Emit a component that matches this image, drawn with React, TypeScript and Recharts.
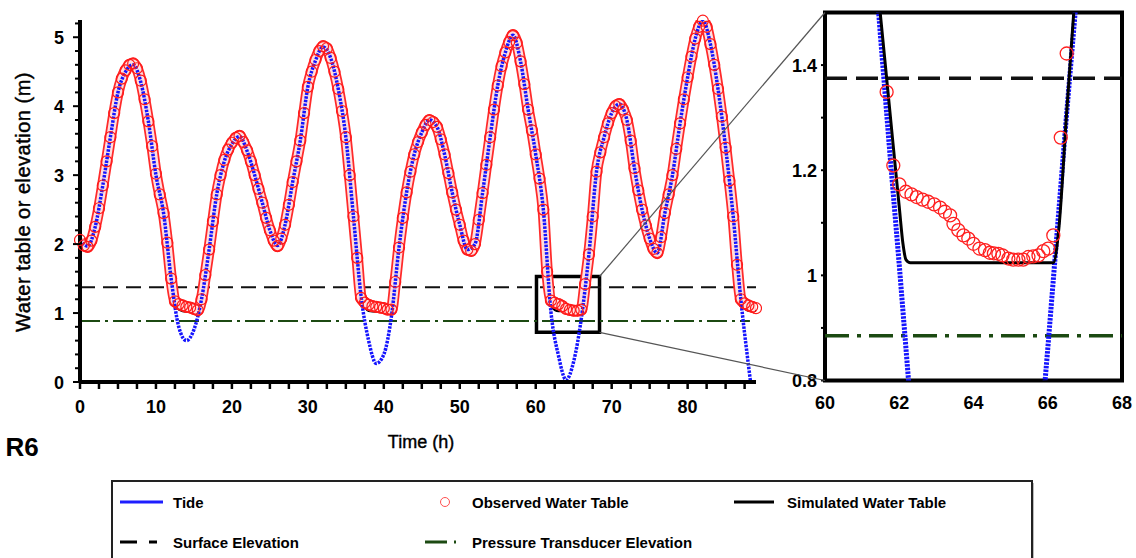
import { ComposedChart, Line, XAxis, YAxis, ReferenceLine, ReferenceArea } from "recharts"

const FONT = "'Liberation Sans', Arial, Helvetica, sans-serif"

// hourly tide (m)
const tideHours = [
  0, 1, 2, 3, 4, 5, 6, 7, 8, 9, 10, 11, 12, 13, 14, 15, 16, 17, 18, 19, 20, 21, 22, 23, 24, 25, 26, 27, 28, 29,
  30, 31, 32, 33, 34, 35, 36, 37, 38, 39, 40, 41, 42, 43, 44, 45, 46, 47, 48, 49, 50, 51, 52, 53, 54, 55, 56, 57, 58, 59,
  60, 61, 62, 63, 64, 65, 66, 67, 68, 69, 70, 71, 72, 73, 74, 75, 76, 77, 78, 79, 80, 81, 82, 83, 84, 85, 86, 87, 88, 89,
]
const tideLevel = [
  2.06, 1.97, 2.25, 2.85, 3.55, 4.2, 4.5, 4.6, 4.35, 3.78,
  3.0, 2.45, 1.5, 0.8, 0.6, 0.76, 1.2, 1.92, 2.72, 3.2,
  3.45, 3.56, 3.35, 3.0, 2.6, 2.2, 1.98, 2.28, 2.9, 3.5,
  4.28, 4.66, 4.86, 4.7, 4.25, 3.55, 2.4, 1.25, 0.6, 0.27,
  0.4, 0.95, 1.95, 2.75, 3.3, 3.62, 3.8, 3.7, 3.3, 2.75,
  2.28, 1.92, 2.0, 2.74, 3.55, 4.3, 4.78, 5.03, 4.65, 3.95,
  3.3, 2.5, 1.02, 0.38, 0.03, 0.3, 0.92, 1.85, 3.05, 3.55,
  3.9, 4.03, 3.8, 3.1, 2.5, 2.08, 1.87, 2.45, 3.0, 3.75,
  4.42, 4.98, 5.24, 4.9, 4.25, 3.4, 2.4, 1.2, 0.25, -0.6,
]
const simulatedLevel = [
  2.06, 1.97, 2.25, 2.85, 3.55, 4.2, 4.5, 4.6, 4.35, 3.78,
  3.0, 2.45, 1.5, 1.05, 1.02, 1.02, 1.2, 1.92, 2.72, 3.2,
  3.45, 3.56, 3.35, 3.0, 2.6, 2.2, 1.98, 2.28, 2.9, 3.5,
  4.28, 4.66, 4.86, 4.7, 4.25, 3.55, 2.4, 1.25, 1.03, 1.02,
  1.02, 1.02, 1.95, 2.75, 3.3, 3.62, 3.8, 3.7, 3.3, 2.75,
  2.28, 1.92, 2.0, 2.74, 3.55, 4.3, 4.78, 5.03, 4.65, 3.95,
  3.3, 2.5, 1.1, 1.025, 1.025, 1.025, 1.025, 1.85, 3.05, 3.55,
  3.9, 4.03, 3.8, 3.1, 2.5, 2.08, 1.87, 2.45, 3.0, 3.75,
  4.42, 4.98, 5.24, 4.9, 4.25, 3.4, 2.4, 1.2, 1.03, 1.03,
]

// observed water table, every half hour
const obsHours = [
  0, 0.5, 1, 1.5, 2, 2.5, 3, 3.5, 4, 4.5, 5, 5.5, 6, 6.5, 7, 7.5, 8, 8.5, 9, 9.5,
  10, 10.5, 11, 11.5, 12, 12.5, 13, 13.5, 14, 14.5, 15, 15.5, 16, 16.5, 17, 17.5, 18, 18.5, 19, 19.5,
  20, 20.5, 21, 21.5, 22, 22.5, 23, 23.5, 24, 24.5, 25, 25.5, 26, 26.5, 27, 27.5, 28, 28.5, 29, 29.5,
  30, 30.5, 31, 31.5, 32, 32.5, 33, 33.5, 34, 34.5, 35, 35.5, 36, 36.5, 37, 37.5, 38, 38.5, 39, 39.5,
  40, 40.5, 41, 41.5, 42, 42.5, 43, 43.5, 44, 44.5, 45, 45.5, 46, 46.5, 47, 47.5, 48, 48.5, 49, 49.5,
  50, 50.5, 51, 51.5, 52, 52.5, 53, 53.5, 54, 54.5, 55, 55.5, 56, 56.5, 57, 57.5, 58, 58.5, 59, 59.5,
  60, 60.5, 61, 61.5, 62, 62.5, 63, 63.5, 64, 64.5, 65, 65.5, 66, 66.5, 67, 67.5, 68, 68.5, 69, 69.5,
  70, 70.5, 71, 71.5, 72, 72.5, 73, 73.5, 74, 74.5, 75, 75.5, 76, 76.5, 77, 77.5, 78, 78.5, 79, 79.5,
  80, 80.5, 81, 81.5, 82, 82.5, 83, 83.5, 84, 84.5, 85, 85.5, 86, 86.5, 87, 87.5, 88, 88.5, 89,
]
const obsLevel = [
  2.06, 1.98, 1.96, 2.05, 2.25, 2.52, 2.85, 3.2, 3.55, 3.9,
  4.2, 4.4, 4.52, 4.6, 4.62, 4.55, 4.37, 4.1, 3.78, 3.42,
  3.02, 2.72, 2.45, 2.02, 1.5, 1.17, 1.13, 1.11, 1.09, 1.08,
  1.06, 1.04, 1.2, 1.55, 1.92, 2.33, 2.72, 3.0, 3.22, 3.37,
  3.47, 3.54, 3.57, 3.48, 3.36, 3.2, 3.0, 2.8, 2.6, 2.38,
  2.2, 2.05, 1.97, 2.08, 2.28, 2.57, 2.9, 3.2, 3.5, 3.9,
  4.28, 4.5, 4.67, 4.8, 4.87, 4.84, 4.7, 4.5, 4.25, 3.93,
  3.55, 3.0, 2.4, 1.8, 1.22, 1.15, 1.12, 1.1, 1.09, 1.08,
  1.07, 1.05, 1.05, 1.45, 1.95, 2.38, 2.75, 3.05, 3.3, 3.48,
  3.62, 3.73, 3.8, 3.77, 3.7, 3.52, 3.3, 3.03, 2.75, 2.5,
  2.28, 2.05, 1.92, 1.9, 2.0, 2.35, 2.74, 3.15, 3.55, 3.95,
  4.3, 4.58, 4.78, 4.93, 5.03, 4.92, 4.65, 4.32, 3.95, 3.65,
  3.3, 2.95, 2.5, 1.6, 1.18, 1.15, 1.13, 1.1, 1.06, 1.045,
  1.035, 1.035, 1.05, 1.42, 1.85, 2.4, 3.05, 3.33, 3.55, 3.75,
  3.9, 4.0, 4.03, 3.95, 3.8, 3.5, 3.1, 2.78, 2.5, 2.27,
  2.08, 1.93, 1.87, 2.1, 2.45, 2.72, 3.0, 3.38, 3.75, 4.1,
  4.42, 4.72, 4.98, 5.15, 5.24, 5.15, 4.9, 4.6, 4.25, 3.85,
  3.4, 2.92, 2.4, 1.7, 1.2, 1.14, 1.11, 1.09, 1.07,
]

// zoomed window (62-66 h low tide)
const insetTideHours = [61.25, 61.5, 61.75, 62, 62.25, 62.5, 63, 64, 65, 65.5, 65.75, 66, 66.25, 66.5, 66.75, 67]
const insetTideLevel = [1.68, 1.45, 1.23, 1.02, 0.8, 0.6, 0.38, 0.03, 0.3, 0.5, 0.65, 0.86, 1.08, 1.3, 1.51, 1.73]
const insetSimHours = [61.25, 61.5, 61.75, 62, 62.1, 62.18, 62.3, 63, 64, 65, 66, 66.15, 66.3, 66.5, 66.75, 67]
const insetSimLevel = [1.66, 1.49, 1.31, 1.13, 1.06, 1.03, 1.024, 1.024, 1.024, 1.024, 1.024, 1.024, 1.09, 1.3, 1.55, 1.78]
const insetObsHours = [
  61.66, 61.84, 62.0, 62.18, 62.33, 62.47, 62.63, 62.78, 62.94, 63.1, 63.23, 63.37, 63.46, 63.59, 63.73, 63.86, 64.0,
  64.16, 64.31, 64.44, 64.55, 64.67, 64.78, 64.94, 65.07, 65.21, 65.34, 65.48, 65.61, 65.75, 65.88, 66.01, 66.15, 66.35, 66.51,
]
const insetObsLevel = [
  1.349, 1.209, 1.173, 1.159, 1.154, 1.149, 1.144, 1.14, 1.135, 1.129, 1.121, 1.114, 1.098, 1.086, 1.076, 1.07, 1.06,
  1.051, 1.048, 1.043, 1.042, 1.041, 1.038, 1.032, 1.03, 1.03, 1.03, 1.035, 1.036, 1.038, 1.046, 1.051, 1.076, 1.262, 1.422,
]

const surfaceElevation = 1.375
const transducerElevation = 0.885
const transducerEnd = 88.2
const zoomBox = { t0: 60.1, t1: 68.4, v0: 0.72, v1: 1.53 }

const mainXTicks = [
  0, 2.5, 5, 7.5, 10, 12.5, 15, 17.5, 20, 22.5, 25, 27.5, 30, 32.5, 35, 37.5, 40, 42.5,
  45, 47.5, 50, 52.5, 55, 57.5, 60, 62.5, 65, 67.5, 70, 72.5, 75, 77.5, 80, 82.5, 85, 87.5,
]
const mainYTicks = [0, 0.2, 0.4, 0.6, 0.8, 1, 1.2, 1.4, 1.6, 1.8, 2, 2.2, 2.4, 2.6, 2.8, 3, 3.2, 3.4, 3.6, 3.8, 4, 4.2, 4.4, 4.6, 4.8, 5, 5.2]
const insetXTicks = [60, 62, 64, 66, 68]
const insetYTicks = [0.8, 0.9, 1, 1.1, 1.2, 1.3, 1.4]
const insetYLabels = ["0.8", "", "1", "", "1.2", "", "1.4"]

const toRows = (xs: number[], ys: number[]) => xs.map((t, i) => ({ t, v: ys[i] }))
const tideData = toRows(tideHours, tideLevel)
const simData = toRows(tideHours, simulatedLevel)
const obsData = toRows(obsHours, obsLevel)
const insetTide = toRows(insetTideHours, insetTideLevel)
const insetSim = toRows(insetSimHours, insetSimLevel)
const insetObs = toRows(insetObsHours, insetObsLevel)

// layout
const MAIN_W = 780
const MAIN_H = 440
const MAIN_MARGIN = { top: 20, right: 24, bottom: 28, left: 30 }
const MAIN_X_MAX = 89
const MAIN_Y_MAX = 5.25
const mPlot = { x0: 80, x1: MAIN_W - MAIN_MARGIN.right, y0: MAIN_MARGIN.top, y1: MAIN_H - MAIN_MARGIN.bottom - 30 }
const mx = (t: number) => mPlot.x0 + (t / MAIN_X_MAX) * (mPlot.x1 - mPlot.x0)
const my = (v: number) => mPlot.y1 - (v / MAIN_Y_MAX) * (mPlot.y1 - mPlot.y0)

const INSET_LEFT = 760
const INSET_W = 376
const INSET_H = 420
const INSET_MARGIN = { top: 12.5, right: 14, bottom: 9.5, left: 15 }
const iPlot = { x0: INSET_LEFT + 65, y0: 12.5, y1: INSET_H - 9.5 - 30 }

const tickText = { fontFamily: FONT, fontSize: 18, fontWeight: "bold" as const, fill: "#000" }

function MainXTick(props: any) {
  const { x, y, payload } = props
  const v = payload.value
  return (
    <g>
      <line x1={x} x2={x} y1={y} y2={y + 7} stroke="#000" strokeWidth={2.5} />
      {v % 10 === 0 && (
        <text x={x} y={y + 31} textAnchor="middle" {...tickText}>
          {v}
        </text>
      )}
    </g>
  )
}

function MainYTick(props: any) {
  const { x, y, payload } = props
  const v = payload.value
  const major = Math.abs(v - Math.round(v)) < 1e-6
  return (
    <g>
      <line x1={x} x2={x - (major ? 7 : 5)} y1={y} y2={y} stroke="#000" strokeWidth={2} />
      {major && (
        <text x={x - 16} y={y + 6.5} textAnchor="end" {...tickText}>
          {Math.round(v)}
        </text>
      )}
    </g>
  )
}

function InsetXTick(props: any) {
  const { x, y, payload } = props
  return (
    <text x={x} y={y + 28} textAnchor="middle" {...tickText}>
      {payload.value}
    </text>
  )
}

function InsetYTick(props: any) {
  const { x, y, payload, index } = props
  const label = insetYLabels[insetYTicks.indexOf(payload.value)] ?? insetYLabels[index]
  return (
    <g>
      <line x1={x} x2={x - 4} y1={y} y2={y} stroke="#000" strokeWidth={2} />
      {label && (
        <text x={x - 8} y={y + 6.5} textAnchor="end" {...tickText}>
          {label}
        </text>
      )}
    </g>
  )
}

function MainChart() {
  return (
    <ComposedChart width={MAIN_W} height={MAIN_H} margin={MAIN_MARGIN}>
      <XAxis
        type="number"
        dataKey="t"
        domain={[0, MAIN_X_MAX]}
        allowDataOverflow
        ticks={mainXTicks}
        interval={0}
        height={30}
        tickSize={0}
        tickMargin={0}
        tickLine={false}
        axisLine={{ stroke: "#000", strokeWidth: 4 }}
        tick={(p: any) => <MainXTick {...p} />}
      />
      <YAxis
        type="number"
        domain={[0, MAIN_Y_MAX]}
        allowDataOverflow
        ticks={mainYTicks}
        interval={0}
        width={50}
        tickSize={0}
        tickMargin={0}
        tickLine={false}
        axisLine={{ stroke: "#000", strokeWidth: 4 }}
        tick={(p: any) => <MainYTick {...p} />}
      />
      <ReferenceLine y={surfaceElevation} stroke="#111" strokeWidth={2} strokeDasharray="15 8" />
      <ReferenceLine
        segment={[
          { x: 0, y: transducerElevation },
          { x: transducerEnd, y: transducerElevation },
        ]}
        stroke="#1c4a12"
        strokeWidth={2}
        strokeDasharray="20 5 3 5"
      />
      <Line data={simData} dataKey="v" type="monotone" stroke="#000" strokeWidth={2} dot={false} activeDot={false} isAnimationActive={false} />
      <Line data={obsData} dataKey="v" type="monotone" stroke="#ff2a2a" strokeWidth={11.5} strokeLinejoin="round" dot={false} activeDot={false} isAnimationActive={false} />
      <Line data={obsData} dataKey="v" type="monotone" stroke="#ffdede" strokeWidth={8} strokeLinejoin="round" dot={false} activeDot={false} isAnimationActive={false} />
      <Line
        data={obsData}
        dataKey="v"
        stroke="none"
        dot={{ r: 5.5, stroke: "#ff1a1a", strokeWidth: 1.2, fill: "none", clipDot: false } as any}
        activeDot={false}
        isAnimationActive={false}
      />
      <Line data={tideData} dataKey="v" type="monotone" stroke="#1414ff" strokeWidth={3.5} strokeDasharray="2.5 1.2" dot={false} activeDot={false} isAnimationActive={false} />
      <ReferenceArea x1={zoomBox.t0} x2={zoomBox.t1} y1={zoomBox.v0} y2={zoomBox.v1} stroke="#000" strokeWidth={3.5} fill="none" fillOpacity={0} />
    </ComposedChart>
  )
}

function InsetChart() {
  return (
    <ComposedChart width={INSET_W} height={INSET_H} margin={INSET_MARGIN}>
      <XAxis
        type="number"
        dataKey="t"
        domain={[60, 68]}
        allowDataOverflow
        ticks={insetXTicks}
        interval={0}
        height={30}
        tickSize={0}
        tickMargin={0}
        tickLine={false}
        axisLine={false}
        tick={(p: any) => <InsetXTick {...p} />}
      />
      <YAxis
        type="number"
        domain={[0.8, 1.5]}
        allowDataOverflow
        ticks={insetYTicks}
        interval={0}
        width={50}
        tickSize={0}
        tickMargin={0}
        tickLine={false}
        axisLine={false}
        tick={(p: any) => <InsetYTick {...p} />}
      />
      <ReferenceLine y={surfaceElevation} stroke="#111" strokeWidth={3.5} strokeDasharray="22 9" />
      <ReferenceLine y={transducerElevation} stroke="#1c4a12" strokeWidth={3.5} strokeDasharray="24 8 4 8" />
      <Line data={insetTide} dataKey="v" type="linear" stroke="#1414ff" strokeWidth={5} strokeDasharray="2.5 1.2" dot={false} activeDot={false} isAnimationActive={false} />
      <Line data={insetSim} dataKey="v" type="monotone" stroke="#000" strokeWidth={3} dot={false} activeDot={false} isAnimationActive={false} />
      <Line
        data={insetObs}
        dataKey="v"
        stroke="none"
        dot={{ r: 6.5, stroke: "#ff2020", strokeWidth: 1.3, fill: "none" }}
        activeDot={false}
        isAnimationActive={false}
      />
      <ReferenceArea x1={60} x2={68} y1={0.8} y2={1.5} stroke="#000" strokeWidth={4} fill="none" fillOpacity={0} />
    </ComposedChart>
  )
}

function Overlay() {
  const legendText = { fontFamily: FONT, fontSize: 15, fontWeight: "bold" as const, fill: "#000" }
  return (
    <svg width={1136} height={558} style={{ position: "absolute", left: 0, top: 0, pointerEvents: "none" }}>
      {/* zoom connectors */}
      <line x1={mx(zoomBox.t1)} y1={my(zoomBox.v1)} x2={iPlot.x0} y2={iPlot.y0} stroke="#555" strokeWidth={1.2} />
      <line x1={mx(zoomBox.t1)} y1={my(zoomBox.v0)} x2={iPlot.x0} y2={iPlot.y1} stroke="#555" strokeWidth={1.2} />

      <text
        transform="translate(22.5, 202) rotate(-90)"
        textAnchor="middle"
        dy="0.35em"
        fontFamily={FONT}
        fontSize={20}
        letterSpacing={0.5}
        fill="#000"
        stroke="#000"
        strokeWidth={0.45}
      >
        Water table or elevation (m)
      </text>
      <text x={421} y={448} textAnchor="middle" fontFamily={FONT} fontSize={18} fill="#000" stroke="#000" strokeWidth={0.4}>
        Time (h)
      </text>
      <text x={5.5} y={456} fontFamily={FONT} fontSize={26} fontWeight="bold" fill="#000">
        R6
      </text>

      {/* legend */}
      <rect x={114} y={483} width={920} height={100} fill="#bbb" />
      <rect x={112} y={481} width={920} height={100} fill="#fff" stroke="#222" strokeWidth={2} />
      <line x1={120} x2={163} y1={502} y2={502} stroke="#1e1eff" strokeWidth={3} />
      <text x={173} y={507.5} {...legendText}>Tide</text>
      <circle cx={445} cy={502} r={4.5} fill="none" stroke="#ff5050" strokeWidth={1} />
      <text x={472} y={507.5} {...legendText}>Observed Water Table</text>
      <line x1={734} x2={774} y1={502} y2={502} stroke="#000" strokeWidth={3} />
      <text x={787} y={507.5} {...legendText}>Simulated Water Table</text>
      <line x1={120} x2={160} y1={542} y2={542} stroke="#000" strokeWidth={3} strokeDasharray="17 12 8 40" />
      <text x={173} y={547.5} {...legendText}>Surface Elevation</text>
      <line x1={425} x2={458} y1={542} y2={542} stroke="#1c4a12" strokeWidth={3} strokeDasharray="22 7 2 40" />
      <text x={472} y={547.5} {...legendText}>Pressure Transducer Elevation</text>
    </svg>
  )
}

export default function App() {
  return (
    <div style={{ position: "absolute", left: 0, top: 0, width: 1136, height: 558, overflow: "hidden", background: "#fff" }}>
      <div style={{ position: "absolute", left: 0, top: 0 }}>
        <MainChart />
      </div>
      <div style={{ position: "absolute", left: INSET_LEFT, top: 0 }}>
        <InsetChart />
      </div>
      <Overlay />
    </div>
  )
}
